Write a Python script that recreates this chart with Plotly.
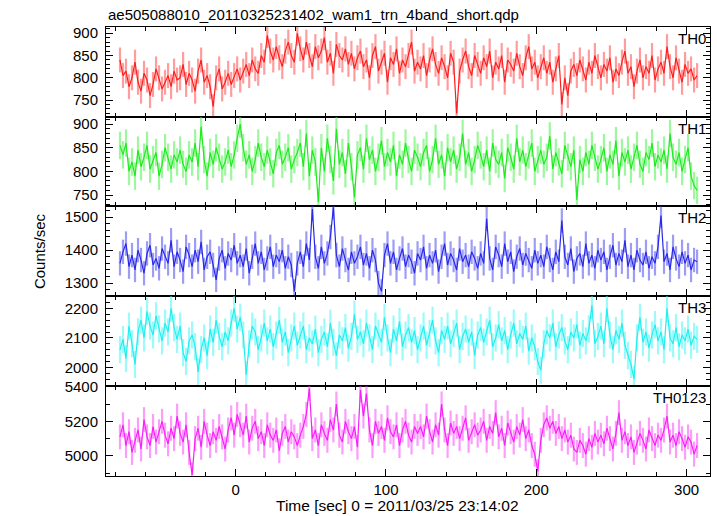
import numpy as np
import plotly.graph_objects as go
from plotly.subplots import make_subplots

# time bins (2 s bins) in seconds since 2011/03/25 23:14:02
TIME = np.arange(-77, 308, 2)

TH0 = [840, 805, 815, 780, 800, 835, 790, 770, 810, 795, 760, 785, 820, 800, 775, 790, 805, 780, 815, 795,
       800, 830, 785, 810, 795, 770, 815, 840, 790, 805, 780, 735, 800, 820, 775, 790, 810, 785, 805, 820,
       795, 815, 830, 805, 840, 820, 810, 850, 835, 895, 860, 840, 870, 845, 825, 860, 880, 850, 835, 900,
       865, 840, 880, 850, 825, 870, 845, 860, 890, 835, 855, 810, 875, 850, 840, 865, 830, 855, 820, 845,
       860, 825, 840, 800, 850, 870, 815, 835, 855, 790, 845, 830, 865, 810, 840, 825, 850, 880, 815, 835,
       820, 850, 805, 840, 865, 830, 810, 845, 825, 800, 855, 835, 720, 815, 840, 860, 825, 805, 850, 830,
       810, 845, 825, 860, 800, 835, 820, 850, 790, 840, 830, 815, 855, 825, 805, 845, 870, 820, 835, 800,
       825, 845, 810, 835, 790, 820, 850, 740, 800, 760, 815, 830, 805, 840, 820, 795, 835, 810, 850, 825,
       800, 830, 815, 845, 790, 820, 805, 835, 860, 810, 825, 780, 815, 840, 800, 825, 810, 850, 795, 820,
       835, 810, 870, 825, 800, 845, 815, 790, 830, 810, 820, 795, 805]

TH1 = [855, 835, 860, 800, 820, 790, 845, 810, 830, 855, 805, 825, 840, 790, 815, 850, 830, 805, 835, 820,
       845, 815, 800, 835, 820, 860, 810, 895, 825, 790, 840, 815, 850, 830, 805, 820, 845, 810, 835, 870,
       900, 850, 815, 835, 800, 825, 860, 830, 810, 845, 820, 795, 840, 855, 815, 830, 850, 805, 825, 840,
       860, 810, 880, 790, 845, 820, 735, 850, 800, 870, 825, 780, 890, 815, 840, 795, 860, 810, 745, 835,
       850, 805, 870, 825, 845, 800, 830, 865, 810, 840, 820, 855, 790, 835, 815, 860, 825, 800, 845, 830,
       810, 840, 855, 800, 825, 870, 815, 835, 790, 850, 820, 845, 805, 830, 880, 815, 840, 800, 825, 855,
       835, 810, 845, 800, 860, 825, 815, 840, 785, 850, 830, 805, 870, 820, 845, 810, 835, 860, 800, 825,
       845, 815, 830, 875, 805, 840, 820, 795, 855, 830, 810, 845, 740, 825, 800, 840, 815, 855, 830, 805,
       825, 850, 800, 835, 815, 865, 790, 840, 820, 845, 805, 830, 855, 815, 800, 840, 825, 860, 810, 835,
       820, 845, 805, 880, 830, 815, 840, 800, 825, 850, 790, 770, 760]

TH2 = [1360, 1395, 1420, 1350, 1385, 1340, 1400, 1370, 1330, 1390, 1415, 1355, 1375, 1345, 1405, 1380, 1360, 1430, 1350, 1395,
       1370, 1335, 1410, 1385, 1350, 1400, 1365, 1425, 1340, 1380, 1395, 1355, 1310, 1375, 1400, 1345, 1390, 1370, 1415, 1360,
       1385, 1350, 1405, 1330, 1380, 1420, 1360, 1395, 1340, 1375, 1410, 1350, 1385, 1365, 1400, 1345, 1380, 1355, 1275, 1360,
       1395, 1350, 1420, 1370, 1525, 1380, 1345, 1410, 1360, 1390, 1440, 1530, 1385, 1350, 1405, 1370, 1340, 1395, 1360, 1380,
       1410, 1355, 1390, 1345, 1400, 1370, 1300, 1275, 1385, 1420, 1360, 1395, 1340, 1375, 1405, 1350, 1385, 1365, 1330, 1390,
       1370, 1410, 1345, 1385, 1360, 1400, 1335, 1380, 1420, 1355, 1390, 1370, 1340, 1405, 1365, 1385, 1350, 1395, 1375, 1345,
       1390, 1360, 1495, 1375, 1340, 1410, 1385, 1350, 1420, 1365, 1395, 1335, 1380, 1405, 1355, 1390, 1370, 1345, 1400, 1360,
       1385, 1350, 1410, 1370, 1340, 1395, 1365, 1490, 1380, 1355, 1405, 1335, 1375, 1390, 1350, 1420, 1360, 1385, 1345, 1400,
       1370, 1395, 1340, 1380, 1415, 1355, 1390, 1365, 1430, 1350, 1385, 1340, 1400, 1370, 1355, 1395, 1345, 1380, 1360, 1410,
       1505, 1365, 1390, 1340, 1410, 1375, 1350, 1395, 1360, 1385, 1340, 1370, 1365]

TH3 = [2060, 2095, 2030, 2140, 2080, 2010, 2120, 2160, 2100, 2190, 2140, 2110, 2175, 2130, 2090, 2150, 2120, 2200, 2135, 2095,
       2140, 2050, 2020, 2090, 2110, 2070, 1985, 2060, 2100, 2040, 2130, 2085, 2160, 2105, 2070, 2120, 2090, 2150, 2200, 2130,
       2170, 2110, 1975, 2080, 2140, 2120, 2060, 2100, 2150, 2090, 2130, 2070, 2110, 2160, 2085, 2120, 2050, 2100, 2140, 2075,
       2110, 2140, 2060, 2100, 2080, 2130, 2050, 2095, 2120, 2070, 2150, 2085, 2040, 2110, 2090, 2135, 2065, 2105, 2180, 2095,
       2120, 2080, 2150, 2100, 2060, 2140, 2115, 2085, 2170, 2100, 2050, 2130, 2090, 2155, 2070, 2110, 2135, 2085, 2125, 2060,
       2100, 2140, 2075, 2115, 2160, 2090, 2050, 2125, 2095, 2140, 2080, 2115, 2150, 2060, 2105, 2130, 2085, 2120, 2040, 2110,
       2135, 2085, 2120, 2160, 2070, 2100, 2145, 2090, 2125, 2060, 2110, 2150, 2080, 2115, 2095, 2140, 2055, 2100, 2070, 2020,
       1990, 2080, 2125, 2100, 2150, 2070, 2110, 2135, 2090, 2060, 2120, 2100, 2145, 2075, 2115, 2090, 2130, 2210, 2080, 2105,
       2140, 2080, 2200, 2110, 2060, 2125, 2095, 2150, 2075, 2040, 2010, 1960, 2100, 2170, 2085, 2120, 2065, 2110, 2145, 2090,
       2120, 2060, 2200, 2100, 2080, 2135, 2070, 2110, 2090, 2130, 2075, 2105, 2095]

TH0123 = [5110, 5180, 5060, 5140, 5020, 5090, 5150, 5040, 5210, 5110, 5060, 5170, 5080, 5140, 5200, 5120, 5070, 5160, 5100, 5230,
          5130, 5080, 5180, 5020, 4890, 5100, 5160, 5050, 5200, 5120, 5060, 5140, 5090, 5170, 5110, 5040, 5150, 5220, 5120, 5240,
          5180, 5120, 5230, 5080, 5160, 5200, 5100, 5140, 5060, 5180, 5120, 5090, 5150, 5030, 5130, 5170, 5080, 5140, 5110, 5060,
          5120, 5170, 5240, 5390, 5100, 5150, 5060, 5180, 5130, 5090, 5210, 5150, 5300, 5120, 5080, 5200, 5140, 5100, 5170, 5050,
          5380, 5230, 5360, 5150, 5060, 5200, 5130, 5170, 5090, 5220, 5140, 5110, 5180, 5060, 5150, 5200, 5120, 5080, 5170, 5130,
          5170, 5110, 5230, 5140, 5080, 5180, 5120, 5300, 5150, 5060, 5190, 5130, 5170, 5100, 5160, 5220, 5090, 5140, 5180, 5120,
          5150, 5200, 5090, 5170, 5130, 5250, 5110, 5160, 5060, 5190, 5140, 5080, 5170, 5120, 5210, 5100, 5150, 5060, 5010, 4910,
          5090, 5180, 5220, 5160, 5200, 5130, 5170, 5100, 5150, 5080, 5120, 5040, 5020, 5090, 5060, 5010, 5100, 5050, 5130, 5080,
          5120, 5070, 5160, 5100, 5040, 5130, 5250, 5090, 5140, 5060, 5110, 5020, 5080, 5130, 5090, 5040, 5150, 5100, 5060, 5120,
          5090, 5150, 5230, 5080, 5120, 5060, 5140, 5100, 5050, 5110, 5080, 5010, 5060]

BANDS = ["TH0", "TH1", "TH2", "TH3", "TH0123"]
SERIES = [TH0, TH1, TH2, TH3, TH0123]
ERRORS = [28, 29, 37, 46, 72]          # 1-sigma error per bin (counts/sec)
YRANGES = [[712, 914], [727, 915], [1261, 1534], [1937, 2242], [4884, 5404]]
YDTICK = [50, 50, 100, 100, 200]
YMINOR = [10, 10, 20, 20, 100]
LINE_COLORS = ["rgb(255,30,30)", "rgb(30,235,30)", "rgb(40,40,235)", "rgb(30,240,240)", "rgb(250,30,250)"]
ERR_COLORS = ["rgba(255,60,60,0.5)", "rgba(60,240,60,0.5)", "rgba(60,60,240,0.5)",
              "rgba(60,245,245,0.5)", "rgba(250,60,250,0.5)"]

FONT = "Liberation Sans, Arial, Helvetica, sans-serif"

fig = make_subplots(rows=5, cols=1, shared_xaxes=True, vertical_spacing=0,
                    row_heights=[90, 89, 90, 90, 90])

for i, (name, vals) in enumerate(zip(BANDS, SERIES)):
    r = i + 1
    fig.add_trace(go.Scatter(
        x=TIME, y=vals, mode="lines",
        line=dict(color=LINE_COLORS[i], width=1.2),
        error_y=dict(type="constant", value=ERRORS[i], color=ERR_COLORS[i], thickness=2.2, width=0),
        showlegend=False, hoverinfo="skip"), row=r, col=1)
    fig.update_yaxes(range=YRANGES[i], dtick=YDTICK[i], tick0=0, ticks="inside", ticklen=7,
                     tickcolor="black", showline=True, linecolor="black", linewidth=1,
                     mirror="ticks", showgrid=False, zeroline=False, ticklabelstandoff=4,
                     tickfont=dict(family=FONT, size=15, color="black"),
                     minor=dict(dtick=YMINOR[i], tick0=0, ticks="inside", ticklen=4, tickcolor="black"),
                     row=r, col=1)
    fig.update_xaxes(range=[-86.3, 315.6], dtick=100, tick0=0, ticks="inside", ticklen=7,
                     tickcolor="black", showline=True, linecolor="black", linewidth=1,
                     mirror="ticks", showgrid=False, zeroline=False,
                     showticklabels=(r == 5),
                     tickfont=dict(family=FONT, size=15, color="black"),
                     minor=dict(dtick=20, tick0=0, ticks="inside", ticklen=4, tickcolor="black"),
                     row=r, col=1)
    yref = "y domain" if r == 1 else f"y{r} domain"
    fig.add_annotation(text=name, xref="paper", x=1.0, xshift=-2, xanchor="right",
                       yref=yref, y=1.0, yshift=-1, yanchor="top", showarrow=False,
                       font=dict(family=FONT, size=15, color="black"))

fig.add_annotation(text="Time [sec] 0 = 2011/03/25 23:14:02", xref="paper", x=0.482,
                   xanchor="center", yref="paper", y=0, yshift=-29, yanchor="middle",
                   showarrow=False, borderpad=0, font=dict(family=FONT, size=15.5, color="black"))
fig.add_annotation(text="Counts/sec", xref="paper", x=-0.11, xanchor="center",
                   yref="paper", y=0.5, yanchor="middle", textangle=-90, showarrow=False,
                   font=dict(family=FONT, size=15, color="black"))
fig.add_annotation(text="ae505088010_20110325231402_wam1_trn_4band_short.qdp",
                   xref="paper", x=0, xanchor="left", yref="paper", y=1.0, yanchor="bottom",
                   yshift=2, showarrow=False, font=dict(family=FONT, size=15, color="black"))

fig.update_layout(width=717, height=516, margin=dict(l=106, r=7, t=27, b=40),
                  paper_bgcolor="white", plot_bgcolor="white",
                  font=dict(family=FONT, size=15, color="black"))

fig.write_html("out.html", config={"displayModeBar": False})

# remove the browser's default page margin so the figure sits at (0, 0)
with open("out.html", encoding="utf-8") as f:
    html = f.read()
html = html.replace("<head>", "<head><style>html,body{margin:0;padding:0;overflow:hidden;}</style>", 1)
with open("out.html", "w", encoding="utf-8") as f:
    f.write(html)
